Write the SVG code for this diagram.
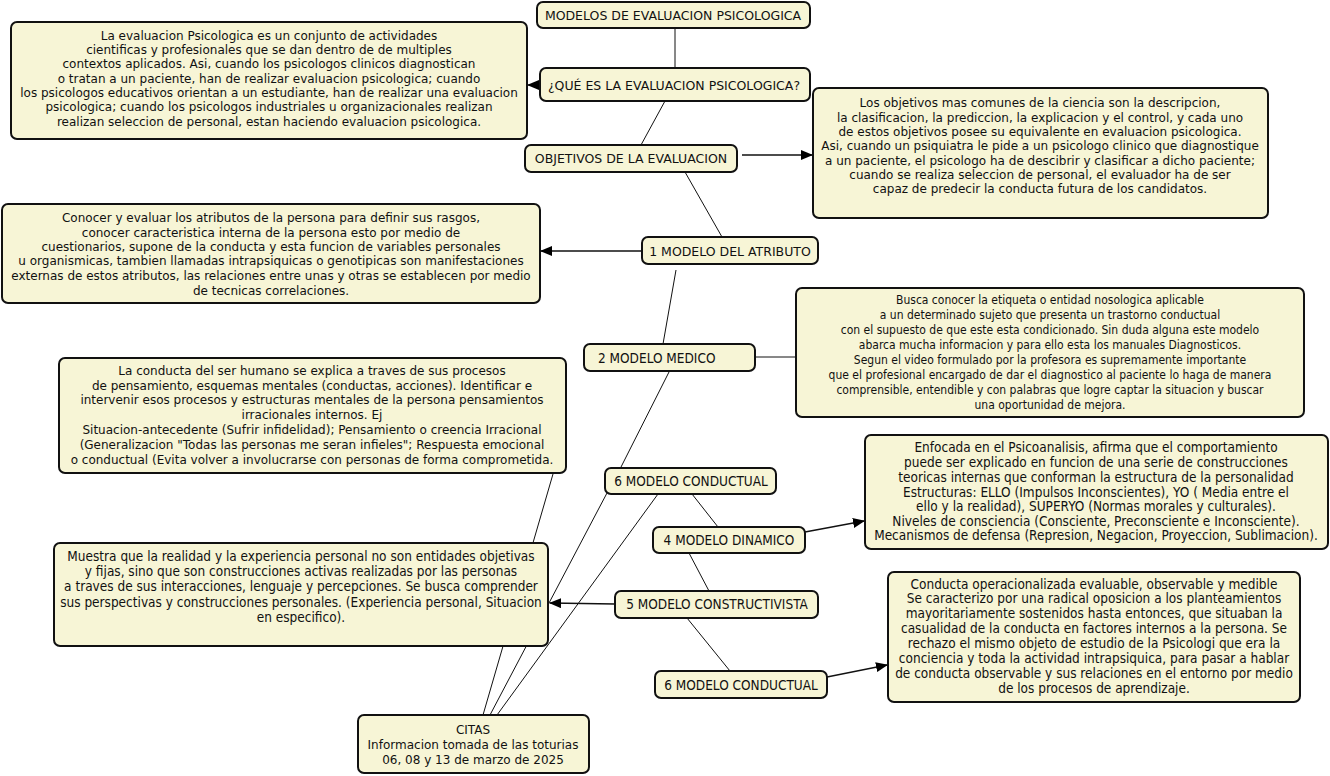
<svg xmlns="http://www.w3.org/2000/svg" width="1330" height="776" viewBox="0 0 1330 776">
<defs>
<marker id="ah" markerUnits="userSpaceOnUse" markerWidth="12" markerHeight="10" refX="11" refY="5" orient="auto">
<path d="M0,0 L12,5 L0,10 Z" fill="#000"/>
</marker>
<style>
.box{fill:#f7f5d6;stroke:#111;stroke-width:2}
.t{font-family:"DejaVu Sans",Verdana,sans-serif;font-size:12px;fill:#111}
.l{font-family:"DejaVu Sans",Verdana,sans-serif;font-size:12.5px;fill:#111}
.c{font-family:"DejaVu Sans Condensed","DejaVu Sans",sans-serif;font-stretch:condensed;font-size:12px;fill:#111}
.cb{font-family:"DejaVu Sans Condensed","DejaVu Sans",sans-serif;font-stretch:condensed;font-size:13.5px;fill:#111}
.cl{font-family:"DejaVu Sans Condensed","DejaVu Sans",sans-serif;font-stretch:condensed;font-size:13.5px;fill:#111}
.m{text-anchor:middle}
.ln{stroke:#111;stroke-width:1;fill:none}
.ar{stroke:#111;stroke-width:1.3;fill:none;marker-end:url(#ah)}
</style>
</defs>
<rect width="1330" height="776" fill="#fff"/>
<g id="connectors">
<line class="ln" x1="675" y1="28" x2="675" y2="68"/>
<line class="ar" x1="540" y1="85" x2="528" y2="85"/>
<line class="ln" x1="665" y1="101" x2="641" y2="145"/>
<line class="ar" x1="742" y1="155" x2="812" y2="155"/>
<line class="ln" x1="685" y1="172" x2="722" y2="237"/>
<line class="ar" x1="642" y1="251" x2="541" y2="251"/>
<line class="ln" x1="676" y1="270" x2="663" y2="344"/>
<line class="ln" x1="755" y1="357" x2="796" y2="357"/>
<line class="ln" x1="669" y1="372" x2="620" y2="469"/>
<line class="ln" x1="553" y1="474" x2="483" y2="715"/>
<line class="ln" x1="607" y1="493" x2="490" y2="715"/>
<line class="ln" x1="658" y1="494" x2="497" y2="715"/>
<line class="ln" x1="692" y1="494" x2="718" y2="527"/>
<line class="ar" x1="805" y1="532" x2="864" y2="521"/>
<line class="ln" x1="689" y1="553" x2="709" y2="591"/>
<line class="ar" x1="615" y1="604" x2="550" y2="603"/>
<line class="ln" x1="687" y1="618" x2="730" y2="671"/>
<line class="ar" x1="827" y1="677" x2="887" y2="665"/>
</g>
<g id="n-modelos">
<rect class="box" x="537" y="2" width="273" height="26" rx="6"/>
<text class="l m" x="673" y="19.5">MODELOS DE EVALUACION PSICOLOGICA</text>
</g>
<g id="n-que">
<rect class="box" x="540" y="68" width="270" height="33" rx="6"/>
<text class="l m" x="674" y="89.5">¿QUÉ ES LA EVALUACION PSICOLOGICA?</text>
</g>
<g id="n-que-desc">
<rect class="box" x="11" y="22" width="516" height="117" rx="6"/>
<text class="t m" x="269" y="39.5">La evaluacion Psicologica es un conjunto de actividades</text>
<text class="t m" x="269" y="53.5">cientificas y profesionales que se dan dentro de de multiples</text>
<text class="t m" x="269" y="67.5">contextos aplicados. Asi, cuando los psicologos clinicos diagnostican</text>
<text class="t m" x="269" y="82.5">o tratan a un paciente, han de realizar evaluacion psicologica; cuando</text>
<text class="t m" x="269" y="96.5">los psicologos educativos orientan a un estudiante, han de realizar una evaluacion</text>
<text class="t m" x="269" y="110.5">psicologica; cuando los psicologos industriales u organizacionales realizan</text>
<text class="t m" x="269" y="125.5">realizan seleccion de personal, estan haciendo evaluacion psicologica.</text>
</g>
<g id="n-objetivos">
<rect class="box" x="525" y="145" width="212" height="27" rx="6"/>
<text class="l m" x="631" y="162.5">OBJETIVOS DE LA EVALUACION</text>
</g>
<g id="n-objetivos-desc">
<rect class="box" x="813" y="88" width="455" height="130" rx="6"/>
<text class="t m" x="1040" y="106.5">Los objetivos mas comunes de la ciencia son la descripcion,</text>
<text class="t m" x="1040" y="121.5">la clasificacion, la prediccion, la explicacion y el control, y cada uno</text>
<text class="t m" x="1040" y="135.5">de estos objetivos posee su equivalente en evaluacion psicologica.</text>
<text class="t m" x="1040" y="149.5">Asi, cuando un psiquiatra le pide a un psicologo clinico que diagnostique</text>
<text class="t m" x="1040" y="164.5">a un paciente, el psicologo ha de descibrir y clasificar a dicho paciente;</text>
<text class="t m" x="1040" y="178.5">cuando se realiza seleccion de personal, el evaluador ha de ser</text>
<text class="t m" x="1040" y="192.5">capaz de predecir la conducta futura de los candidatos.</text>
</g>
<g id="n-atributo">
<rect class="box" x="642" y="237" width="176" height="27" rx="6"/>
<text class="l m" x="730" y="255.5">1 MODELO DEL ATRIBUTO</text>
</g>
<g id="n-atributo-desc">
<rect class="box" x="2" y="204" width="538" height="99" rx="6"/>
<text class="t m" x="271" y="221.5">Conocer y evaluar los atributos de la persona para definir sus rasgos,</text>
<text class="t m" x="271" y="236.5">conocer caracteristica interna de la persona esto por medio de</text>
<text class="t m" x="271" y="250.5">cuestionarios, supone de la conducta y esta funcion de variables personales</text>
<text class="t m" x="271" y="264.5">u organismicas, tambien llamadas intrapsiquicas o genotipicas son manifestaciones</text>
<text class="t m" x="271" y="279.5">externas de estos atributos, las relaciones entre unas y otras se establecen por medio</text>
<text class="t m" x="271" y="294.5">de tecnicas correlaciones.</text>
</g>
<g id="n-medico">
<rect class="box" x="584" y="344" width="171" height="27" rx="6"/>
<text class="cl" x="598" y="362.5">2 MODELO MEDICO</text>
</g>
<g id="n-medico-desc">
<rect class="box" x="796" y="288" width="508" height="129" rx="6"/>
<text class="c m" x="1050" y="303.5">Busca conocer la etiqueta o entidad nosologica aplicable</text>
<text class="c m" x="1050" y="318.5">a un determinado sujeto que presenta un trastorno conductual</text>
<text class="c m" x="1050" y="333.5">con el supuesto de que este esta condicionado. Sin duda alguna este modelo</text>
<text class="c m" x="1050" y="348.5">abarca mucha informacion y para ello esta los manuales Diagnosticos.</text>
<text class="c m" x="1050" y="363.5">Segun el video formulado por la profesora es supremamente importante</text>
<text class="c m" x="1050" y="378.5">que el profesional encargado de dar el diagnostico al paciente lo haga de manera</text>
<text class="c m" x="1050" y="393.5">comprensible, entendible y con palabras que logre captar la situacion y buscar</text>
<text class="c m" x="1050" y="408.5">una oportunidad de mejora.</text>
</g>
<g id="n-cognitivo-desc">
<rect class="box" x="59" y="358" width="507" height="115" rx="6"/>
<text class="t m" x="312" y="374.5">La conducta del ser humano se explica a traves de sus procesos</text>
<text class="t m" x="312" y="389.5">de pensamiento, esquemas mentales (conductas, acciones). Identificar e</text>
<text class="t m" x="312" y="403.5">intervenir esos procesos y estructuras mentales de la persona pensamientos</text>
<text class="t m" x="312" y="418.5">irracionales internos. Ej</text>
<text class="t m" x="312" y="433.5">Situacion-antecedente (Sufrir infidelidad); Pensamiento o creencia Irracional</text>
<text class="t m" x="312" y="448.5">(Generalizacion "Todas las personas me seran infieles"; Respuesta emocional</text>
<text class="t m" x="312" y="463.5">o conductual (Evita volver a involucrarse con personas de forma comprometida.</text>
</g>
<g id="n-conductual-1">
<rect class="box" x="605" y="468" width="171" height="26" rx="6"/>
<text class="cl m" x="691" y="486">6 MODELO CONDUCTUAL</text>
</g>
<g id="n-dinamico">
<rect class="box" x="653" y="527" width="152" height="26" rx="6"/>
<text class="cl m" x="729" y="545">4 MODELO DINAMICO</text>
</g>
<g id="n-dinamico-desc">
<rect class="box" x="865" y="435" width="463" height="114" rx="6"/>
<text class="cb m" x="1096" y="452">Enfocada en el Psicoanalisis, afirma que el comportamiento</text>
<text class="cb m" x="1096" y="467">puede ser explicado en funcion de una serie de construcciones</text>
<text class="cb m" x="1096" y="482">teoricas internas que conforman la estructura de la personalidad</text>
<text class="cb m" x="1096" y="497">Estructuras: ELLO (Impulsos Inconscientes), YO ( Media entre el</text>
<text class="cb m" x="1096" y="511">ello y la realidad), SUPERYO (Normas morales y culturales).</text>
<text class="cb m" x="1096" y="526">Niveles de consciencia (Consciente, Preconsciente e Inconsciente).</text>
<text class="cb m" x="1096" y="540">Mecanismos de defensa (Represion, Negacion, Proyeccion, Sublimacion).</text>
</g>
<g id="n-constructivista">
<rect class="box" x="615" y="591" width="203" height="27" rx="6"/>
<text class="cl m" x="717" y="609">5 MODELO CONSTRUCTIVISTA</text>
</g>
<g id="n-constructivista-desc">
<rect class="box" x="54" y="543" width="494" height="103" rx="6"/>
<text class="cb m" x="301" y="561">Muestra que la realidad y la experiencia personal no son entidades objetivas</text>
<text class="cb m" x="301" y="576">y fijas, sino que son construcciones activas realizadas por las personas</text>
<text class="cb m" x="301" y="591">a traves de sus interacciones, lenguaje y percepciones. Se busca comprender</text>
<text class="cb m" x="301" y="607">sus perspectivas y construcciones personales. (Experiencia personal, Situacion</text>
<text class="cb m" x="301" y="622">en especifico).</text>
</g>
<g id="n-conductual-2">
<rect class="box" x="655" y="671" width="172" height="27" rx="6"/>
<text class="cl m" x="741" y="690">6 MODELO CONDUCTUAL</text>
</g>
<g id="n-conductual-desc">
<rect class="box" x="888" y="572" width="412" height="130" rx="6"/>
<text class="cb m" x="1094" y="589">Conducta operacionalizada evaluable, observable y medible</text>
<text class="cb m" x="1094" y="603">Se caracterizo por una radical oposicion a los planteamientos</text>
<text class="cb m" x="1094" y="618">mayoritariamente sostenidos hasta entonces, que situaban la</text>
<text class="cb m" x="1094" y="633">casualidad de la conducta en factores internos a la persona. Se</text>
<text class="cb m" x="1094" y="648">rechazo el mismo objeto de estudio de la Psicologi que era la</text>
<text class="cb m" x="1094" y="663">conciencia y toda la actividad intrapsiquica, para pasar a hablar</text>
<text class="cb m" x="1094" y="678">de conducta observable y sus relaciones en el entorno por medio</text>
<text class="cb m" x="1094" y="693">de los procesos de aprendizaje.</text>
</g>
<g id="n-citas">
<rect class="box" x="358" y="715" width="231" height="58" rx="6"/>
<text class="t m" x="473" y="733.5">CITAS</text>
<text class="t m" x="473" y="748.5">Informacion tomada de las toturias</text>
<text class="t m" x="473" y="763.5">06, 08 y 13 de marzo de 2025</text>
</g>
</svg>
